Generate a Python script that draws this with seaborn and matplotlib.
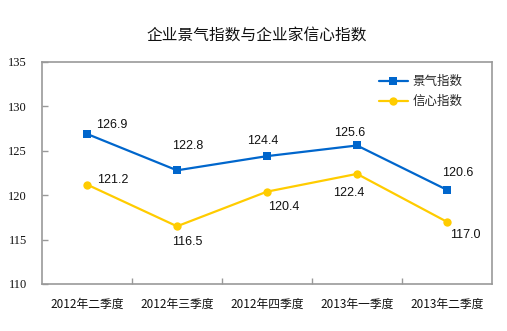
import matplotlib
matplotlib.use("Agg")
import matplotlib.pyplot as plt
import seaborn as sns
import pandas as pd
from matplotlib.ticker import FixedLocator

# ---- data ----
quarters = ["2012年二季度", "2012年三季度", "2012年四季度", "2013年一季度", "2013年二季度"]
jingqi = [126.9, 122.8, 124.4, 125.6, 120.6]
xinxin = [121.2, 116.5, 120.4, 122.4, 117.0]
series_names = ["景气指数", "信心指数"]
title = "企业景气指数与企业家信心指数"
yticks = [110, 115, 120, 125, 130, 135]

# label offsets in pixels (dx, dy) - style only
off_jq = [(25, 9), (11, 24), (-4, 15), (-7, 12), (11, 17)]
off_xx = [(26, 5), (10, -16), (17, -15), (-8, -19), (18, -13)]

sns.set_theme(style="white")
plt.rcParams['font.family'] = ['Noto Sans CJK SC', 'DejaVu Sans']

BLUE = "#0066CC"
YELLOW = "#FFCC00"

fig = plt.figure(figsize=(5.07, 3.31), dpi=100)
ax = fig.add_axes([42/507, 47/331, 450/507, 222/331])

df = pd.DataFrame({"季度": quarters, series_names[0]: jingqi, series_names[1]: xinxin})

sns.lineplot(data=df, x="季度", y=series_names[0], ax=ax, color=BLUE, marker="s",
             markersize=6, markeredgewidth=0, linewidth=1.6, label=series_names[0])
sns.lineplot(data=df, x="季度", y=series_names[1], ax=ax, color=YELLOW, marker="o",
             markersize=6, markeredgewidth=0, linewidth=1.6, label=series_names[1])

ax.set_xlim(-0.5, len(quarters) - 0.5)
ax.set_ylim(min(yticks), max(yticks))
ax.set_yticks(yticks)
ax.set_yticklabels([str(v) for v in yticks], family=['Liberation Serif'], fontsize=9, color="#111111")
ax.set_xticks(range(len(quarters)))
ax.set_xticklabels(quarters, fontsize=8.5, color="#111111")
ax.xaxis.set_minor_locator(FixedLocator([i + 0.5 for i in range(len(quarters) - 1)]))
ax.tick_params(axis="x", which="major", length=0, pad=10)
ax.tick_params(axis="x", which="minor", direction="in", length=4, color="#999999", width=1, bottom=True)
ax.tick_params(axis="y", which="major", direction="in", length=4, color="#999999", width=1, left=True, pad=11)
ax.set_xlabel("")
ax.set_ylabel("")
for s in ax.spines.values():
    s.set_color("#999999")
    s.set_linewidth(1.2)
ax.grid(False)

for i, (v, o) in enumerate(zip(jingqi, off_jq)):
    ax.annotate(f"{v:.1f}", (i, v), xytext=(o[0] * 0.72, o[1] * 0.72), textcoords="offset points",
                ha="center", va="center", fontsize=9, family=['Liberation Sans'], color="#111111")
for i, (v, o) in enumerate(zip(xinxin, off_xx)):
    ax.annotate(f"{v:.1f}", (i, v), xytext=(o[0] * 0.72, o[1] * 0.72), textcoords="offset points",
                ha="center", va="center", fontsize=9, family=['Liberation Sans'], color="#111111")

leg = ax.legend(loc="upper left", bbox_to_anchor=(379/507, 1 - 75/331), bbox_transform=fig.transFigure,
                frameon=False, fontsize=9, handlelength=2.3, handletextpad=0.35, labelspacing=0.55,
                borderpad=0, borderaxespad=0)

fig.text(257/507, 1 - 35/331, title, ha="center", va="center", fontsize=11.3,
         fontweight="medium", color="#111111")

fig.savefig("out.png", dpi=100)
